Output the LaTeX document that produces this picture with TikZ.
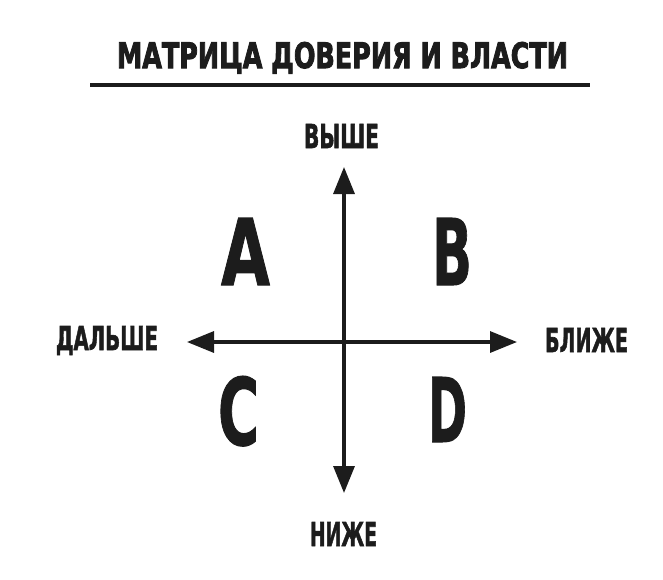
\documentclass[tikz,border=0pt]{standalone}
\usepackage{fontspec}
\newfontfamily\hfont{DejaVu Sans}[BoldFeatures={FakeBold=1.2}]
\newfontfamily\tfont{DejaVu Sans}[BoldFeatures={FakeBold=3}]
\newfontfamily\lfont{DejaVu Sans}[BoldFeatures={FakeBold=2}]
\usetikzlibrary{arrows.meta}
\definecolor{ink}{HTML}{1C1C1C}
\tikzset{
  lbl/.style={anchor=base, inner sep=0pt, text=ink, font=\hfont\bfseries},
  ttl/.style={lbl, font=\tfont\bfseries},
  side/.style={lbl, font=\lfont\bfseries},
  axis/.style={draw=ink, line width=3.3pt, {Triangle[length=27pt,width=21pt]}-{Triangle[length=27pt,width=21pt]}},
}
\newcommand{\fit}[3]{\resizebox{#1pt}{#2pt}{#3}}
\begin{document}
\begin{tikzpicture}[x=1pt,y=-1pt]
\useasboundingbox (0,0) rectangle (663,579);
\node[ttl] (title) at (342.5,68) {\fit{451}{26}{МАТРИЦА ДОВЕРИЯ И ВЛАСТИ}};
\coordinate (ul1) at (90,85);
\coordinate (ul2) at (590,85);
\draw[draw=ink, line width=3.5pt] (ul1) -- (ul2);
\coordinate (top) at (344,167);
\coordinate (bot) at (344,493);
\coordinate (lft) at (187,342);
\coordinate (rgt) at (517,342);
\draw[axis] (top) -- (bot);
\draw[axis] (lft) -- (rgt);
\node[side] (up) at (341.5,148) {\fit{75}{24}{ВЫШЕ}};
\node[side] (down) at (343.5,546) {\fit{67}{24}{НИЖЕ}};
\node[side] (far) at (107,350) {\fit{102}{24}{ДАЛЬШЕ}};
\node[side] (near) at (586.5,352) {\fit{83}{24}{БЛИЖЕ}};
\node[lbl] (A) at (245.5,285) {\fit{49}{67}{A}};
\node[lbl] (B) at (452,285) {\fit{40}{67}{B}};
\node[lbl] (C) at (238.5,445) {\fit{41}{69}{C}};
\node[lbl] (D) at (447.5,442) {\fit{39}{65}{D}};
\end{tikzpicture}
\end{document}
